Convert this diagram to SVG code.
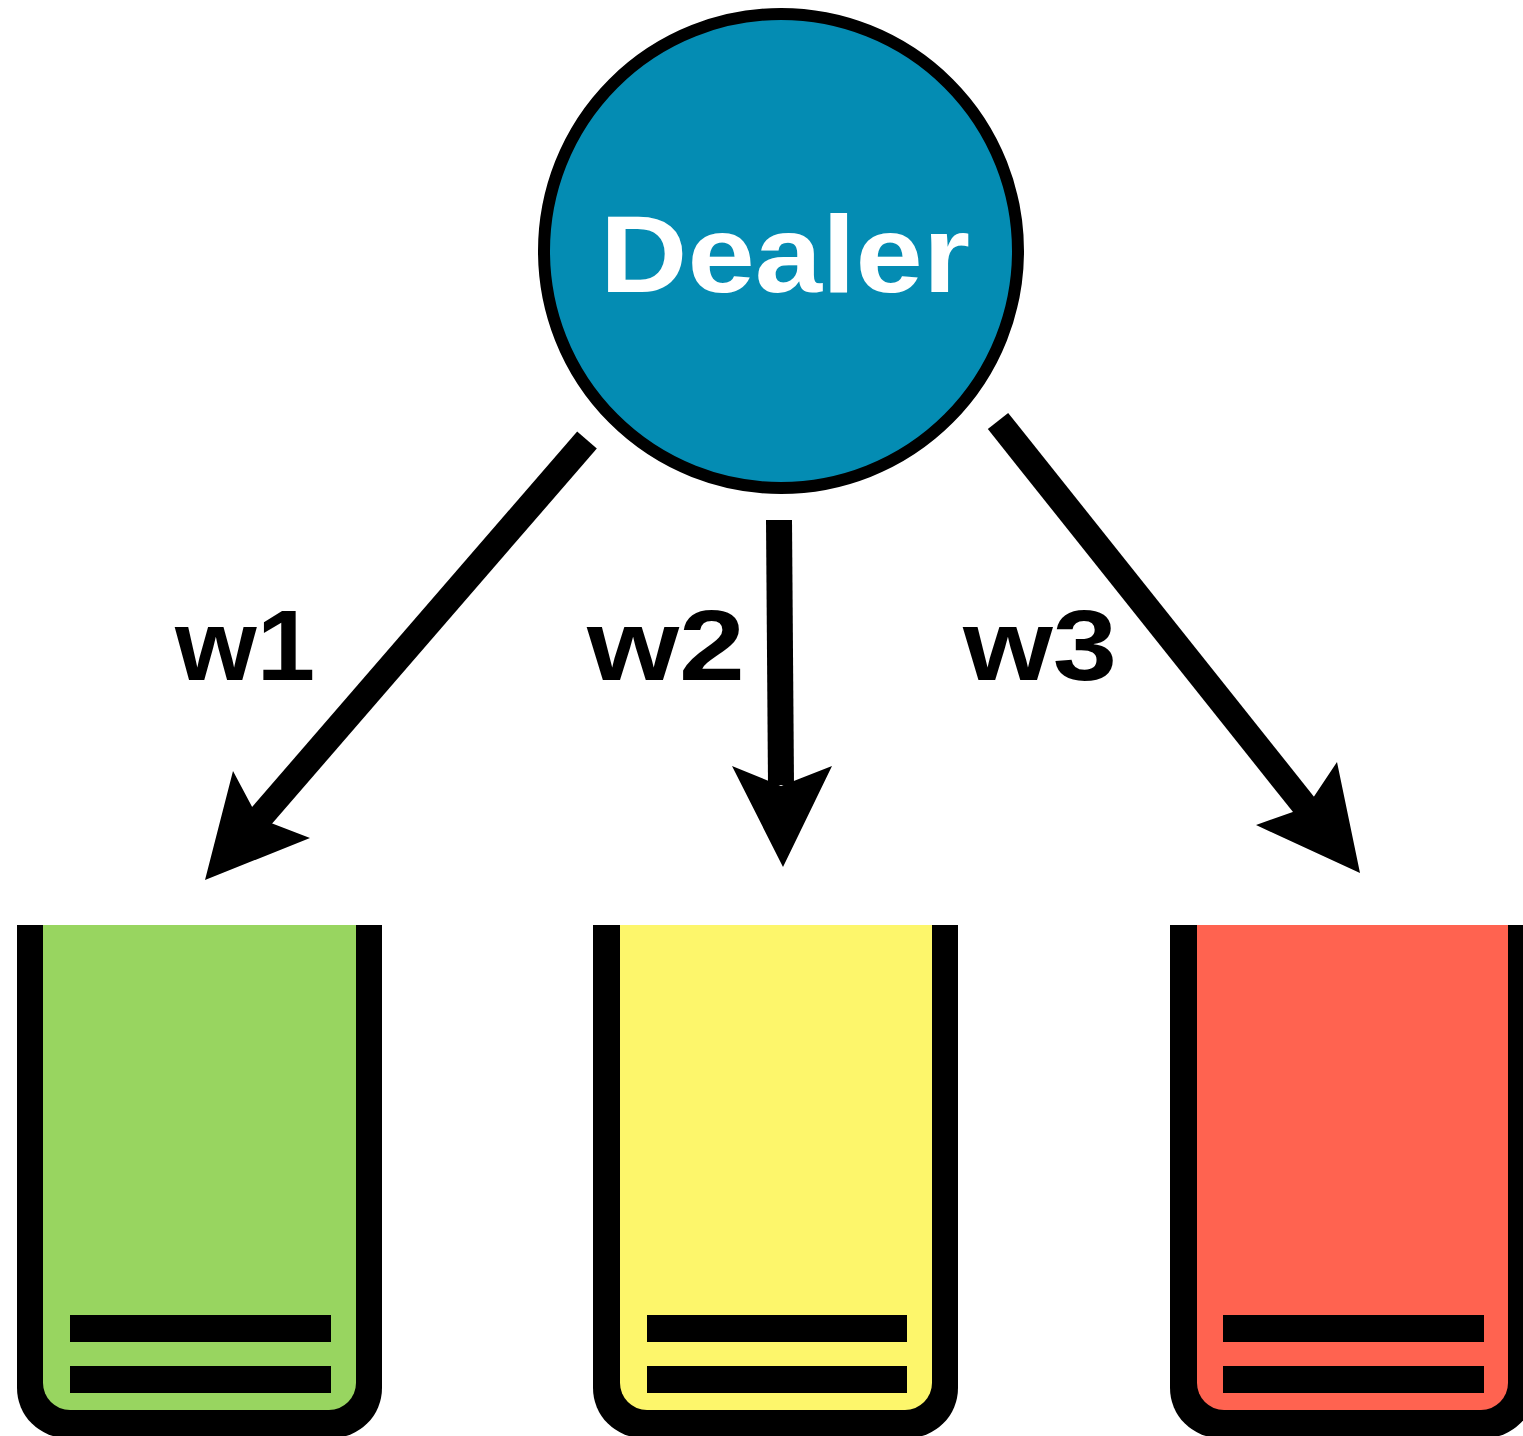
<svg xmlns="http://www.w3.org/2000/svg" width="1523" height="1436" viewBox="0 0 1523 1436">
<style>
.lbl{font-family:"Liberation Sans",Arial,sans-serif;font-weight:bold;fill:#000;font-size:100px}
.conn{stroke:#000;stroke-width:26;fill:none}
.head{fill:#000}
.bar{fill:#000}
</style>
<rect width="1523" height="1436" fill="#fff"/>
<g id="connectors">
  <line class="conn" x1="587" y1="440" x2="258" y2="820"/>
  <polygon class="head" points="205,880 233,771 258,818 310,838"/>
  <line class="conn" x1="779" y1="520" x2="781" y2="785"/>
  <polygon class="head" points="783,867 732,766 781,786 832,766"/>
  <line class="conn" x1="998" y1="421" x2="1308" y2="810"/>
  <polygon class="head" points="1360,873 1256,825 1307,807 1337,762"/>
  <text class="lbl" x="175" y="680" textLength="140" lengthAdjust="spacingAndGlyphs">w1</text>
  <text class="lbl" x="587" y="680" textLength="158" lengthAdjust="spacingAndGlyphs">w2</text>
  <text class="lbl" x="963" y="680" textLength="154" lengthAdjust="spacingAndGlyphs">w3</text>
</g>
<g id="dealer">
  <circle cx="781" cy="251" r="237" fill="#048CB3" stroke="#000" stroke-width="12"/>
  <text x="785" y="292" text-anchor="middle" font-family="'Liberation Sans',Arial,sans-serif" font-weight="bold" font-size="110" fill="#fff" textLength="370" lengthAdjust="spacingAndGlyphs">Dealer</text>
</g>
<g id="bucket1">
  <path d="M17,925 H382 V1388 A50,50 0 0 1 332,1438 H67 A50,50 0 0 1 17,1388 Z" fill="#000"/>
  <path d="M43,925 H356 V1383 A27,27 0 0 1 329,1410 H70 A27,27 0 0 1 43,1383 Z" fill="#98D560"/>
  <rect class="bar" x="70" y="1315" width="261" height="27"/>
  <rect class="bar" x="70" y="1366" width="261" height="27"/>
</g>
<g id="bucket2">
  <path d="M593,925 H958 V1388 A50,50 0 0 1 908,1438 H643 A50,50 0 0 1 593,1388 Z" fill="#000"/>
  <path d="M620,925 H932 V1383 A27,27 0 0 1 905,1410 H647 A27,27 0 0 1 620,1383 Z" fill="#FDF66B"/>
  <rect class="bar" x="647" y="1315" width="260" height="27"/>
  <rect class="bar" x="647" y="1366" width="260" height="27"/>
</g>
<g id="bucket3">
  <path d="M1170,925 H1535 V1388 A50,50 0 0 1 1485,1438 H1220 A50,50 0 0 1 1170,1388 Z" fill="#000"/>
  <path d="M1197,925 H1508 V1383 A27,27 0 0 1 1481,1410 H1224 A27,27 0 0 1 1197,1383 Z" fill="#FF6350"/>
  <rect class="bar" x="1223" y="1315" width="261" height="27"/>
  <rect class="bar" x="1223" y="1366" width="261" height="27"/>
</g>
</svg>
